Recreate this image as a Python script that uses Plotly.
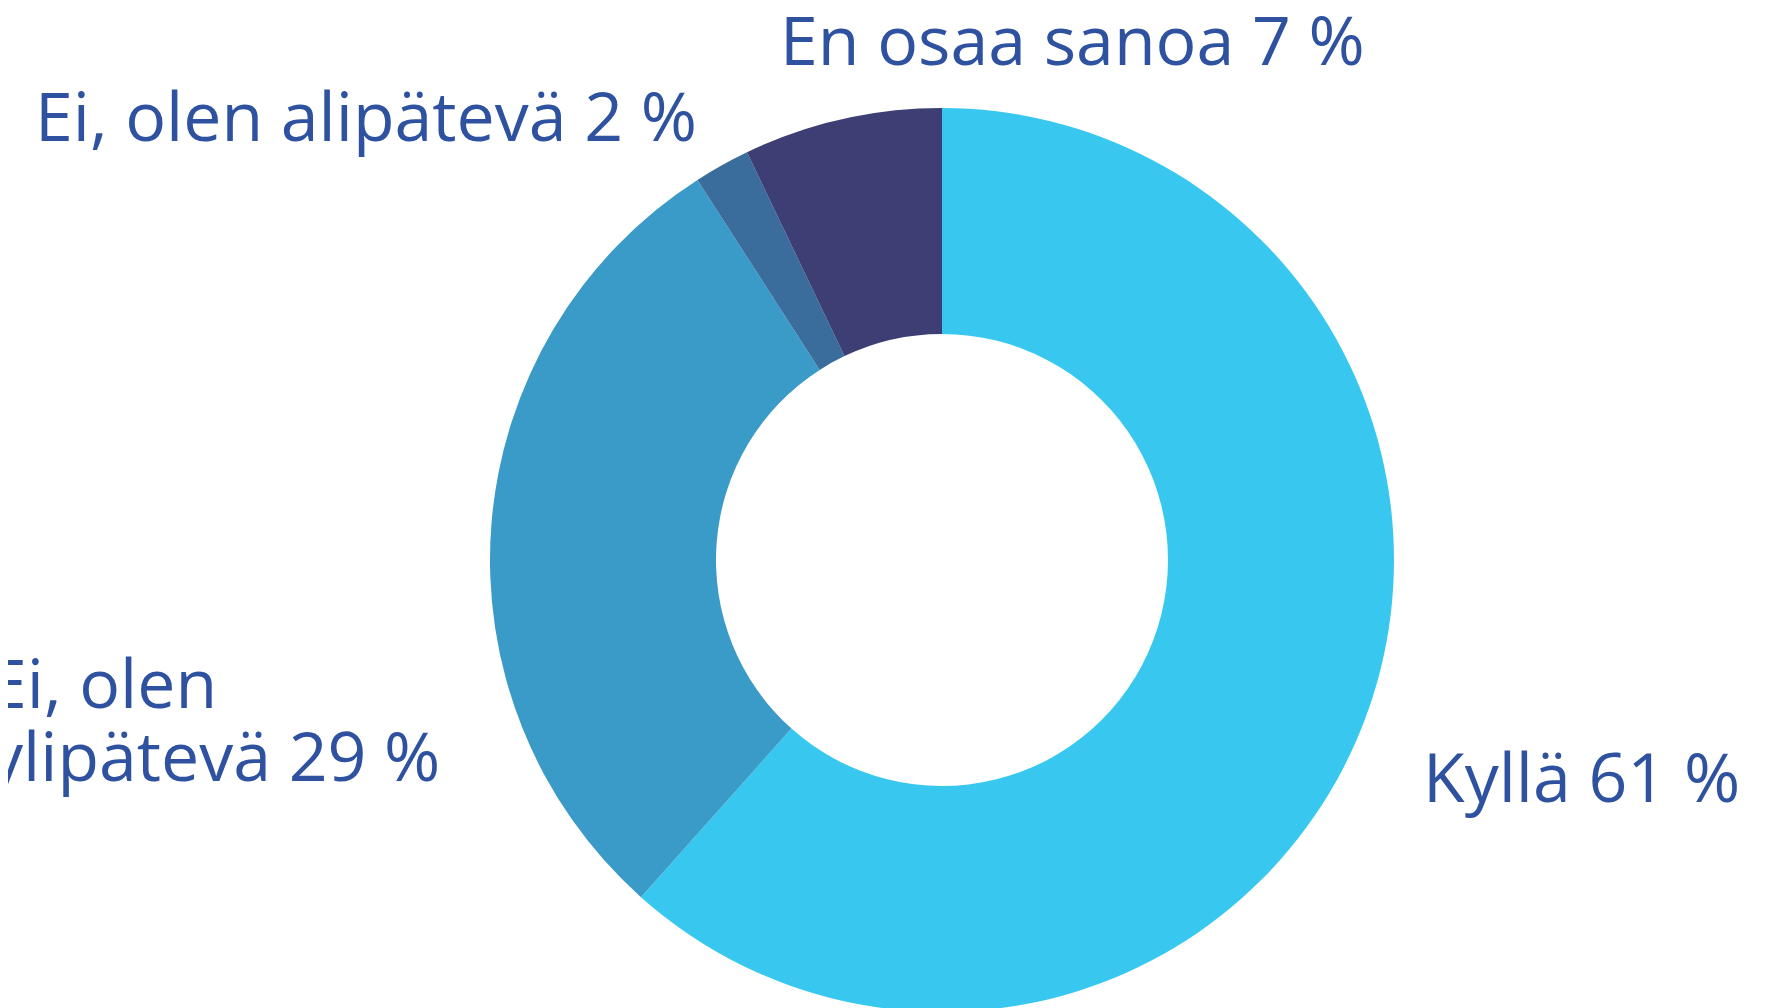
import plotly.graph_objects as go

categories = ["Kyllä", "Ei, olen ylipätevä", "Ei, olen alipätevä", "En osaa sanoa"]
values = [61.6, 29.3, 2.0, 7.1]
label_texts = ["Kyllä 61 %", "Ei, olen<br>ylipätevä 29 %", "Ei, olen alipätevä 2 %", "En osaa sanoa 7 %"]
colors = ["#38C8EF", "#3A9BC8", "#3A6C9C", "#3D3E73"]

W, H = 1791, 1008
cx, cy, r = 934, 552, 452

fig = go.Figure(go.Pie(
    labels=categories, values=values, hole=0.5, sort=False,
    direction="clockwise", rotation=0,
    marker=dict(colors=colors, line=dict(width=0)),
    textinfo="none", hoverinfo="label+percent",
    domain=dict(x=[(cx - r) / W, (cx + r) / W], y=[max(0, (H - cy - r) / H), (H - cy + r) / H]),
    showlegend=False,
))

# label anchor positions (left x, top y of first line in pixels), line step
label_pos = [(1413, 719), (-21, 625), (25, 58), (770, -18)]
line_step = 73
font = dict(family="Open Sans, sans-serif", size=68, color="#2F52A0")
for txt, (lx, ty) in zip(label_texts, label_pos):
    for i, line in enumerate(txt.split("<br>")):
        fig.add_annotation(text=line, xref="paper", yref="paper",
                           x=lx / W, y=1 - (ty + i * line_step) / H,
                           xanchor="left", yanchor="top",
                           showarrow=False, align="left", font=font)

fig.update_layout(width=W, height=H, margin=dict(l=0, r=0, t=0, b=0),
                  paper_bgcolor="white", plot_bgcolor="white")
fig.write_html("out.html")
